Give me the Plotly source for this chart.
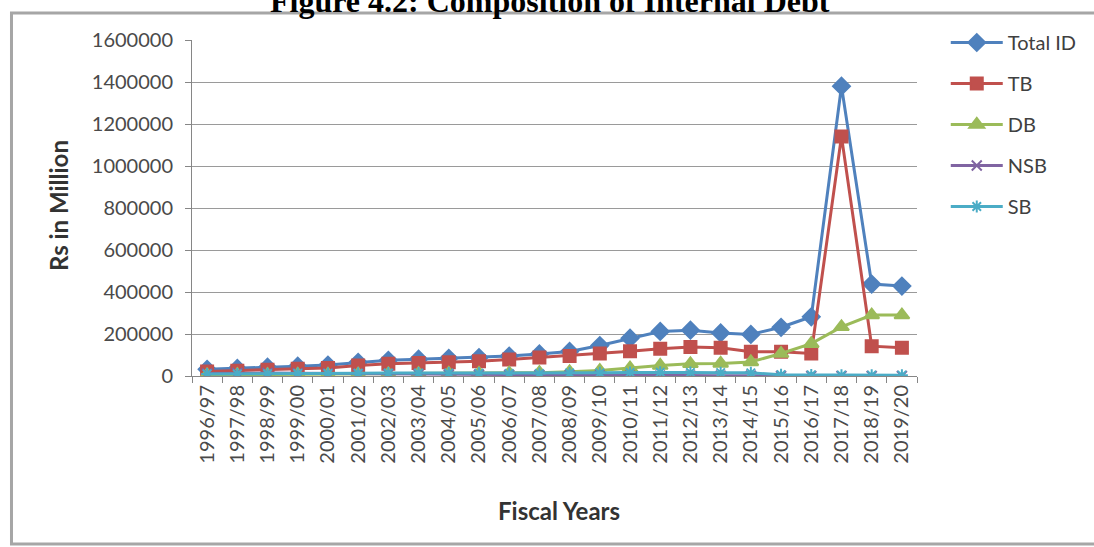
import plotly.graph_objects as go

# Fiscal years on the category axis
years = ["1996/97", "1997/98", "1998/99", "1999/00", "2000/01", "2001/02",
         "2002/03", "2003/04", "2004/05", "2005/06", "2006/07", "2007/08",
         "2008/09", "2009/10", "2010/11", "2011/12", "2012/13", "2013/14",
         "2014/15", "2015/16", "2016/17", "2017/18", "2018/19", "2019/20"]

# Internal debt components, Rs in million
total_id = [32000, 36000, 42000, 47000, 52000, 65000, 75000, 80000, 84000, 88000,
            95000, 105000, 117000, 145000, 180000, 212000, 218000, 205000, 198000,
            232000, 282000, 1380000, 438000, 428000]
tb = [22000, 25000, 30000, 34000, 38000, 50000, 58000, 62000, 65000, 70000,
      78000, 88000, 95000, 107000, 118000, 130000, 138000, 134000, 115000,
      115000, 107000, 1141000, 142000, 134000]
db = [5000, 6000, 7000, 8000, 8000, 9000, 10000, 11000, 12000, 13000,
      14000, 16000, 20000, 26000, 38000, 50000, 58000, 60000, 67000,
      107000, 154000, 234000, 290000, 290000]
nsb = [12000, 14000, 14000, 13000, 12000, 10000, 9000, 8000, 7000, 6000,
       5000, 4000, 3000, 2000, 1000, 1000, 1000, 1000, 1000,
       0, 0, 0, 0, 0]
sb = [10000, 10000, 11000, 12000, 12000, 13000, 14000, 14000, 14000, 13000,
      12000, 12000, 14000, 15000, 17000, 18000, 17000, 16000, 15000,
      6000, 5000, 4000, 4000, 4000]

series = [
    ("Total ID", total_id, "#4F81BD", "diamond", 13),
    ("TB", tb, "#C0504D", "square", 12),
    ("DB", db, "#9BBB59", "triangle-up", 13),
    ("NSB", nsb, "#8064A2", "x-thin-open", 10),
    ("SB", sb, "#4BACC6", "asterisk-open", 10),
]

fig = go.Figure()
for name, vals, color, symbol, size in series:
    fig.add_trace(go.Scatter(
        x=years, y=vals, name=name, mode="lines+markers",
        legendgroup=name,
        line=dict(color=color, width=3),
        marker=dict(symbol=symbol, size=size, color=color,
                    line=dict(color=color, width=2)),
    ))

L, R, T, B = 192, 171, 40, 171
W, H = 1094, 547
pw, ph = W - L - R, H - T - B


def px_x(px):
    return (px - L) / pw


def px_y(py):
    return (H - B - py) / ph


tick_font = dict(family="Lato", size=20, color="#4a4a4a")
title_font = dict(family="Lato", size=24, color="#333333")

fig.update_layout(
    width=W, height=H,
    margin=dict(l=L, r=R, t=T, b=B),
    paper_bgcolor="white", plot_bgcolor="white",
    showlegend=True,
    legend=dict(x=px_x(952), y=px_y(23), xanchor="left", yanchor="top",
                font=dict(family="Lato", size=20, color="#404040"),
                traceorder="grouped", tracegroupgap=12,
                itemwidth=52,
                bgcolor="rgba(0,0,0,0)"),
    xaxis=dict(type="category", range=[-0.5, len(years) - 0.5],
               tickangle=-90, tickfont=tick_font,
               showline=True, linecolor="#868686", linewidth=1,
               ticks="outside", tickson="boundaries", ticklen=6,
               tickcolor="#868686", showgrid=False),
    yaxis=dict(range=[0, 1600000], dtick=200000, tickformat="d",
               tickfont=tick_font, showline=True, linecolor="#868686",
               linewidth=1, ticks="outside", ticklen=6, tickcolor="#868686",
               ticklabelstandoff=8,
               showgrid=True, gridcolor="#9a9a9a", gridwidth=1,
               zeroline=False),
    shapes=[dict(type="rect", xref="paper", yref="paper",
                 x0=px_x(10), x1=px_x(1115), y0=px_y(544), y1=px_y(13),
                 line=dict(color="#a6a6a6", width=3), layer="below")],
    annotations=[
        dict(text="<b>Figure 4.2: Composition of Internal Debt</b>",
             xref="paper", yref="paper", x=px_x(553), y=px_y(1),
             xanchor="center", yanchor="middle", showarrow=False,
             font=dict(family="Liberation Serif", size=32, color="black")),
        dict(text="<b>Rs in Million</b>", textangle=-90,
             xref="paper", yref="paper", x=px_x(57), y=px_y(206),
             xanchor="center", yanchor="middle", showarrow=False,
             font=title_font),
        dict(text="<b>Fiscal Years</b>",
             xref="paper", yref="paper", x=px_x(562), y=px_y(510),
             xanchor="center", yanchor="middle", showarrow=False,
             font=title_font),
    ],
)

fig.write_html("out.html")
